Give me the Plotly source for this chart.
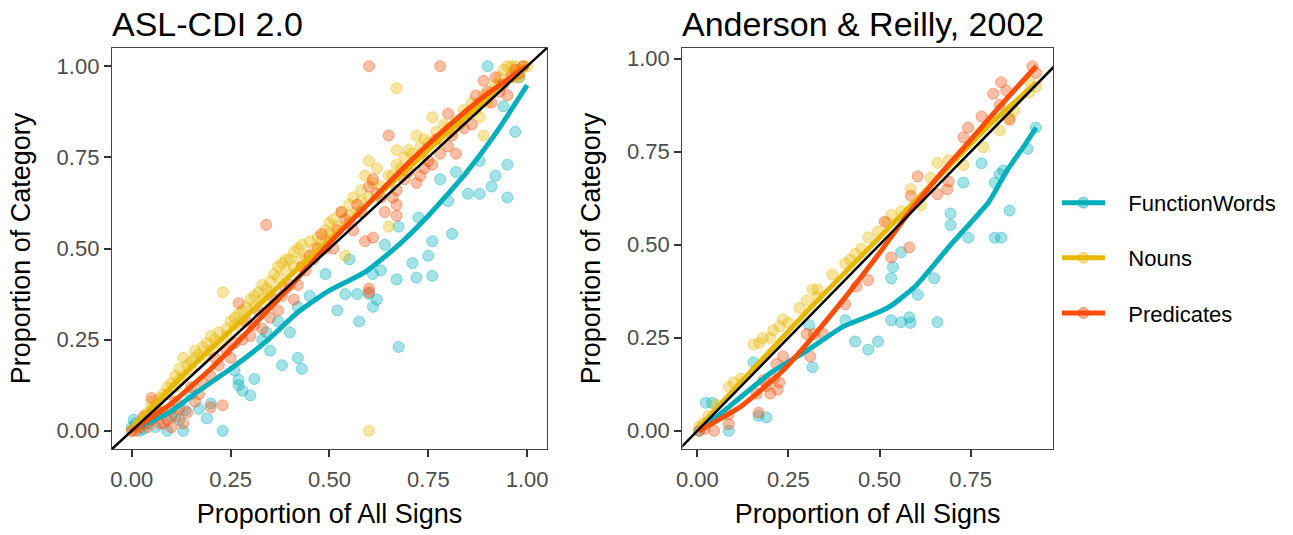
import plotly.graph_objects as go

FONT = "Liberation Sans, Arial, Helvetica, sans-serif"
categories = ["FunctionWords", "Nouns", "Predicates"]
colors = {"FunctionWords": "#00AFBB", "Nouns": "#E7B800", "Predicates": "#FC4E07"}
panel_titles = ["ASL-CDI 2.0", "Anderson & Reilly, 2002"]
x_title = "Proportion of All Signs"
y_title = "Proportion of Category"

# ---------------- ASL-CDI 2.0 (left panel) ----------------
asl_fw_x = [0.0, 0.005, 0.01, 0.02, 0.03, 0.04, 0.06, 0.09, 0.1, 0.12, 0.13, 0.135, 0.17, 0.19, 0.2, 0.23,
            0.26, 0.27, 0.27, 0.28, 0.3, 0.31, 0.34, 0.35, 0.37, 0.38, 0.4, 0.42, 0.43, 0.42, 0.45, 0.49,
            0.52, 0.54, 0.55, 0.57, 0.575, 0.6, 0.61, 0.62, 0.61, 0.63, 0.64, 0.67, 0.675, 0.675, 0.71,
            0.72, 0.725, 0.75, 0.76, 0.76, 0.78, 0.8, 0.81, 0.82, 0.85, 0.88, 0.88, 0.91, 0.92, 0.94,
            0.95, 0.95, 0.97, 0.9, 0.98, 0.07, 0.15, 0.33]
asl_fw_y = [0.01, 0.03, 0.02, 0.0, 0.005, 0.02, 0.01, 0.0, 0.04, 0.03, 0.0, 0.056, 0.06, 0.034, 0.075, 0.0,
            0.165, 0.14, 0.125, 0.11, 0.097, 0.142, 0.27, 0.22, 0.3, 0.18, 0.27, 0.2, 0.17, 0.34, 0.37, 0.43,
            0.33, 0.375, 0.47, 0.375, 0.3, 0.375, 0.34, 0.36, 0.43, 0.44, 0.51, 0.415, 0.23, 0.56, 0.46,
            0.42, 0.585, 0.48, 0.52, 0.425, 0.69, 0.63, 0.54, 0.71, 0.65, 0.65, 0.74, 0.67, 0.7, 0.89,
            0.73, 0.64, 0.82, 1.0, 0.97, 0.05, 0.1, 0.25]
asl_nouns_x = [0.0, 0.01, 0.015, 0.02, 0.03, 0.04, 0.05, 0.06, 0.07, 0.08, 0.09, 0.1, 0.11, 0.12, 0.12, 0.13,
               0.14, 0.15, 0.16, 0.17, 0.18, 0.19, 0.2, 0.21, 0.23, 0.22, 0.24, 0.25, 0.26, 0.27, 0.28, 0.3,
               0.31, 0.32, 0.33, 0.34, 0.35, 0.36, 0.37, 0.38, 0.39, 0.4, 0.41, 0.42, 0.43, 0.44, 0.45, 0.47,
               0.49, 0.5, 0.51, 0.53, 0.54, 0.55, 0.56, 0.57, 0.58, 0.59, 0.6, 0.6, 0.61, 0.62, 0.65, 0.66,
               0.67, 0.67, 0.67, 0.69, 0.7, 0.72, 0.73, 0.74, 0.76, 0.77, 0.79, 0.8, 0.82, 0.83, 0.85, 0.87,
               0.88, 0.89, 0.9, 0.91, 0.92, 0.93, 0.94, 0.95, 0.96, 0.97, 0.98, 0.99, 1.0, 0.96, 0.98,
               0.05, 0.07, 0.09, 0.11, 0.13, 0.15, 0.16, 0.18, 0.2, 0.22, 0.24, 0.26, 0.28, 0.29, 0.31,
               0.33, 0.35, 0.37, 0.39, 0.41, 0.43, 0.46, 0.48, 0.5, 0.52, 0.55, 0.58, 0.6, 0.63, 0.65,
               0.68, 0.71, 0.75, 0.78, 0.81, 0.84, 0.86, 0.89, 0.93, 0.97]
asl_nouns_y = [0.0, 0.01, 0.02, 0.015, 0.035, 0.05, 0.06, 0.07, 0.09, 0.1, 0.12, 0.13, 0.15, 0.14, 0.17, 0.2,
               0.18, 0.19, 0.2, 0.21, 0.23, 0.24, 0.22, 0.25, 0.38, 0.27, 0.28, 0.3, 0.29, 0.32, 0.33, 0.36,
               0.37, 0.38, 0.36, 0.39, 0.41, 0.43, 0.45, 0.46, 0.44, 0.47, 0.49, 0.5, 0.51, 0.48, 0.52, 0.53,
               0.55, 0.57, 0.58, 0.6, 0.48, 0.62, 0.64, 0.6, 0.66, 0.7, 0.74, 0.0, 0.68, 0.72, 0.56, 0.7,
               0.73, 0.77, 0.94, 0.75, 0.77, 0.81, 0.78, 0.8, 0.86, 0.82, 0.84, 0.83, 0.85, 0.84, 0.87, 0.88,
               0.86, 0.81, 0.9, 0.93, 0.95, 0.97, 0.99, 1.0, 0.98, 1.0, 0.99, 1.0, 1.0, 1.0, 0.97,
               0.08, 0.06, 0.1, 0.12, 0.15, 0.17, 0.22, 0.2, 0.26, 0.24, 0.26, 0.31, 0.3, 0.34, 0.34,
               0.4, 0.38, 0.42, 0.47, 0.45, 0.47, 0.5, 0.52, 0.54, 0.56, 0.59, 0.63, 0.64, 0.67, 0.7,
               0.72, 0.76, 0.79, 0.8, 0.82, 0.88, 0.9, 0.92, 0.95, 0.97]
asl_pred_x = [0.0, 0.01, 0.02, 0.03, 0.04, 0.05, 0.05, 0.06, 0.07, 0.08, 0.09, 0.1, 0.1, 0.11, 0.12, 0.13,
              0.14, 0.16, 0.17, 0.2, 0.23, 0.2, 0.22, 0.25, 0.27, 0.28, 0.3, 0.31, 0.33, 0.34, 0.35, 0.37,
              0.38, 0.4, 0.41, 0.42, 0.43, 0.45, 0.47, 0.48, 0.5, 0.52, 0.53, 0.55, 0.57, 0.59, 0.6, 0.6,
              0.61, 0.6, 0.61, 0.62, 0.65, 0.67, 0.67, 0.67, 0.69, 0.72, 0.73, 0.74, 0.76, 0.78, 0.6, 0.78,
              0.8, 0.8, 0.82, 0.83, 0.85, 0.87, 0.89, 0.91, 0.93, 0.95, 0.96, 0.97, 0.99, 0.92,
              0.03, 0.06, 0.08, 0.11, 0.15, 0.18, 0.21, 0.24, 0.26, 0.29, 0.32, 0.36, 0.39, 0.44, 0.46,
              0.49, 0.51, 0.54, 0.56, 0.58, 0.63, 0.64, 0.66, 0.7, 0.75, 0.77, 0.81, 0.84, 0.86, 0.88,
              0.9, 0.94, 0.98]
asl_pred_y = [0.0, 0.0, 0.01, 0.02, 0.01, 0.03, 0.09, 0.04, 0.02, 0.05, 0.03, 0.06, 0.01, 0.04, 0.06, 0.02,
              0.05, 0.08, 0.1, 0.065, 0.07, 0.15, 0.18, 0.2, 0.35, 0.25, 0.26, 0.29, 0.28, 0.565, 0.31, 0.33,
              0.37, 0.4, 0.36, 0.4, 0.45, 0.48, 0.5, 0.54, 0.52, 0.55, 0.6, 0.57, 0.62, 0.52, 0.39, 0.38,
              0.53, 0.67, 0.69, 0.65, 0.81, 0.59, 0.62, 0.66, 0.69, 0.68, 0.7, 0.72, 0.73, 0.76, 1.0, 1.0,
              0.78, 0.87, 0.76, 0.85, 0.87, 0.92, 0.96, 0.9, 0.93, 0.92, 0.97, 0.99, 1.0, 0.97,
              0.04, 0.06, 0.02, 0.08, 0.12, 0.13, 0.2, 0.22, 0.24, 0.3, 0.33, 0.36, 0.39, 0.44, 0.47,
              0.5, 0.5, 0.58, 0.55, 0.6, 0.64, 0.6, 0.64, 0.71, 0.74, 0.8, 0.81, 0.83, 0.84, 0.9,
              0.93, 0.95, 0.98]

# loess smooth curves
asl_fw_sx = [0.0, 0.09, 0.17, 0.25, 0.34, 0.42, 0.5, 0.59, 0.67, 0.75, 0.84, 0.92, 1.0]
asl_fw_sy = [0.003, 0.047, 0.11, 0.17, 0.245, 0.325, 0.385, 0.435, 0.505, 0.59, 0.7, 0.815, 0.948]
asl_nouns_sx = [0.0, 0.1, 0.2, 0.3, 0.4, 0.5, 0.6, 0.7, 0.8, 0.9, 1.0]
asl_nouns_sy = [0.005, 0.12, 0.225, 0.325, 0.425, 0.525, 0.625, 0.72, 0.82, 0.91, 1.0]
asl_pred_sx = [0.0, 0.1, 0.2, 0.3, 0.4, 0.5, 0.6, 0.7, 0.8, 0.9, 1.0]
asl_pred_sy = [0.0, 0.075, 0.17, 0.28, 0.395, 0.515, 0.625, 0.735, 0.835, 0.925, 1.0]

# ---------------- Anderson & Reilly, 2002 (right panel) ----------------
ar_fw_x = [0.005, 0.023, 0.041, 0.086, 0.168, 0.19, 0.154, 0.316, 0.307, 0.406, 0.433, 0.469, 0.496, 0.532,
           0.559, 0.582, 0.585, 0.659, 0.605, 0.65, 0.532, 0.537, 0.559, 0.695, 0.695, 0.744, 0.73, 0.78,
           0.816, 0.834, 0.816, 0.83, 0.84, 0.857, 0.907, 0.929]
ar_fw_y = [0.0, 0.075, 0.075, 0.0, 0.04, 0.036, 0.184, 0.171, 0.284, 0.297, 0.24, 0.218, 0.24, 0.297,
           0.292, 0.305, 0.29, 0.292, 0.366, 0.41, 0.41, 0.44, 0.48, 0.553, 0.584, 0.519, 0.667, 0.719,
           0.519, 0.519, 0.667, 0.69, 0.7, 0.592, 0.758, 0.815]
ar_nouns_x = [0.005, 0.015, 0.03, 0.05, 0.086, 0.1, 0.12, 0.154, 0.17, 0.18, 0.2, 0.208, 0.225, 0.235, 0.28,
              0.3, 0.316, 0.33, 0.37, 0.406, 0.433, 0.45, 0.469, 0.496, 0.52, 0.532, 0.56, 0.586, 0.614,
              0.64, 0.659, 0.69, 0.73, 0.785, 0.83, 0.857, 0.87, 0.911, 0.93, 0.911, 0.25, 0.33, 0.42]
ar_nouns_y = [0.01, 0.02, 0.04, 0.07, 0.118, 0.13, 0.14, 0.232, 0.236, 0.25, 0.25, 0.27, 0.28, 0.3, 0.33,
              0.35, 0.38, 0.38, 0.42, 0.45, 0.475, 0.49, 0.52, 0.535, 0.56, 0.58, 0.59, 0.65, 0.606,
              0.68, 0.72, 0.728, 0.714, 0.762, 0.807, 0.84, 0.86, 0.91, 0.925, 0.94, 0.29, 0.36, 0.46]
ar_pred_x = [0.005, 0.02, 0.046, 0.086, 0.086, 0.163, 0.168, 0.181, 0.19, 0.2, 0.21, 0.22, 0.225, 0.217,
             0.235, 0.31, 0.3, 0.32, 0.345, 0.406, 0.437, 0.469, 0.514, 0.532, 0.582, 0.586, 0.605, 0.659,
             0.686, 0.69, 0.73, 0.743, 0.78, 0.812, 0.83, 0.834, 0.848, 0.857, 0.93, 0.92]
ar_pred_y = [0.0, 0.005, 0.0, 0.018, 0.044, 0.1, 0.049, 0.136, 0.12, 0.1, 0.14, 0.11, 0.13, 0.18,
             0.2, 0.2, 0.26, 0.26, 0.26, 0.34, 0.388, 0.405, 0.562, 0.466, 0.493, 0.632, 0.684, 0.636,
             0.649, 0.67, 0.789, 0.815, 0.845, 0.906, 0.876, 0.937, 0.915, 0.836, 0.962, 0.98]

ar_fw_sx = [0.005, 0.1, 0.2, 0.3, 0.4, 0.5, 0.53, 0.6, 0.7, 0.8, 0.85, 0.9, 0.93]
ar_fw_sy = [0.0, 0.075, 0.155, 0.215, 0.28, 0.32, 0.335, 0.39, 0.505, 0.615, 0.7, 0.77, 0.815]
ar_nouns_sx = [0.005, 0.1, 0.2, 0.3, 0.4, 0.5, 0.6, 0.7, 0.8, 0.93]
ar_nouns_sy = [0.01, 0.11, 0.215, 0.32, 0.42, 0.52, 0.62, 0.72, 0.82, 0.935]
ar_pred_sx = [0.005, 0.12, 0.235, 0.325, 0.415, 0.5, 0.57, 0.66, 0.75, 0.83, 0.93]
ar_pred_sy = [0.0, 0.066, 0.162, 0.262, 0.37, 0.478, 0.572, 0.682, 0.782, 0.872, 0.98]

panels = [
    {"pts": {"FunctionWords": (asl_fw_x, asl_fw_y), "Nouns": (asl_nouns_x, asl_nouns_y),
             "Predicates": (asl_pred_x, asl_pred_y)},
     "smooth": {"FunctionWords": (asl_fw_sx, asl_fw_sy), "Nouns": (asl_nouns_sx, asl_nouns_sy),
                "Predicates": (asl_pred_sx, asl_pred_sy)}},
    {"pts": {"FunctionWords": (ar_fw_x, ar_fw_y), "Nouns": (ar_nouns_x, ar_nouns_y),
             "Predicates": (ar_pred_x, ar_pred_y)},
     "smooth": {"FunctionWords": (ar_fw_sx, ar_fw_sy), "Nouns": (ar_nouns_sx, ar_nouns_sy),
                "Predicates": (ar_pred_sx, ar_pred_sy)}},
]


def rgba(hexc, a):
    h = hexc.lstrip("#")
    return f"rgba({int(h[0:2],16)},{int(h[2:4],16)},{int(h[4:6],16)},{a})"


def expand(vals, mult=0.05):
    lo, hi = min(vals), max(vals)
    d = (hi - lo) * mult
    return [lo - d, hi + d]


fig = go.Figure()
ranges = []
for i, p in enumerate(panels):
    xa = "x" if i == 0 else "x2"
    ya = "y" if i == 0 else "y2"
    allx = [v for c in categories for v in p["pts"][c][0]]
    ally = [v for c in categories for v in p["pts"][c][1]]
    xr, yr = expand(allx), expand(ally)
    ranges.append((xr, yr))
    for c in categories:
        x, y = p["pts"][c]
        fig.add_trace(go.Scatter(x=x, y=y, mode="markers", xaxis=xa, yaxis=ya, showlegend=False,
                                 marker=dict(size=11, color=rgba(colors[c], 0.36),
                                             line=dict(width=1, color=rgba(colors[c], 0.42))),
                                 hoverinfo="skip"))
    for c in categories:
        sx, sy = p["smooth"][c]
        fig.add_trace(go.Scatter(x=sx, y=sy, mode="lines", xaxis=xa, yaxis=ya, showlegend=False,
                                 line=dict(color=colors[c], width=5, shape="spline", smoothing=0.5),
                                 hoverinfo="skip"))
    lo = min(xr[0], yr[0]) - 0.1
    hi = max(xr[1], yr[1]) + 0.1
    fig.add_trace(go.Scatter(x=[lo, hi], y=[lo, hi], mode="lines", xaxis=xa, yaxis=ya, showlegend=False,
                             line=dict(color="black", width=2.5), hoverinfo="skip"))

# legend-only traces
NB = "\u00a0\u00a0\u00a0"
for c in categories:
    fig.add_trace(go.Scatter(x=[None], y=[None], mode="lines+markers", name=NB + c, legendgroup=c,
                             line=dict(color=colors[c], width=5),
                             marker=dict(size=11, color=rgba(colors[c], 0.45),
                                         line=dict(width=1, color=rgba(colors[c], 0.5)))))

W, H = 1293, 535
ml, mt = 112, 48
panel_right, panel_bottom = 1064, 462
mr, mb = W - panel_right, H - panel_bottom
pw = W - ml - mr
ph = H - mt - mb
dom1 = [0, (552 - ml) / pw]
dom2 = [(689 - ml) / pw, 1]

axis_common = dict(showgrid=False, zeroline=False, showline=True, mirror=True, linecolor="#444444",
                   linewidth=1.3, ticks="outside", ticklen=7, tickwidth=2, tickcolor="#333333",
                   tickfont=dict(family=FONT, size=22, color="#4D4D4D"), tickformat=".2f",
                   tick0=0, dtick=0.25)

fig.update_layout(
    width=W, height=H, plot_bgcolor="white", paper_bgcolor="white",
    margin=dict(l=ml, r=mr, t=mt, b=mb),
    font=dict(family=FONT, color="black"),
    hovermode=False,
    xaxis=dict(axis_common, domain=dom1, range=ranges[0][0], anchor="y", ticklabelstandoff=3,
               title=dict(text=x_title, font=dict(size=27, color="black"), standoff=13)),
    yaxis=dict(axis_common, domain=[0, 1], range=ranges[0][1], anchor="x",
               title=dict(text=y_title, font=dict(size=27, color="black"), standoff=18)),
    xaxis2=dict(axis_common, domain=dom2, range=ranges[1][0], anchor="y2", ticklabelstandoff=3,
                title=dict(text=x_title, font=dict(size=27, color="black"), standoff=13)),
    yaxis2=dict(axis_common, domain=[0, 1], range=ranges[1][1], anchor="x2",
                title=dict(text=y_title, font=dict(size=27, color="black"), standoff=18)),
    legend=dict(x=(1068 - ml) / pw, xanchor="left", y=0.4765, yanchor="middle",
                font=dict(family=FONT, size=22, color="black"), itemwidth=43,
                traceorder="grouped", tracegroupgap=23.5, bgcolor="rgba(0,0,0,0)"),
    showlegend=True,
)

title_y = 1 + (mt - 23) / ph
for d, t in zip([dom1, dom2], panel_titles):
    fig.add_annotation(text=t, xref="paper", yref="paper", x=d[0], y=title_y, xshift=-2,
                       xanchor="left", yanchor="middle", showarrow=False,
                       font=dict(family=FONT, size=34, color="black"))

fig.write_html("out.html", config={"displayModeBar": False},
               post_script="document.body.style.margin='0px';document.body.style.overflow='hidden';")
